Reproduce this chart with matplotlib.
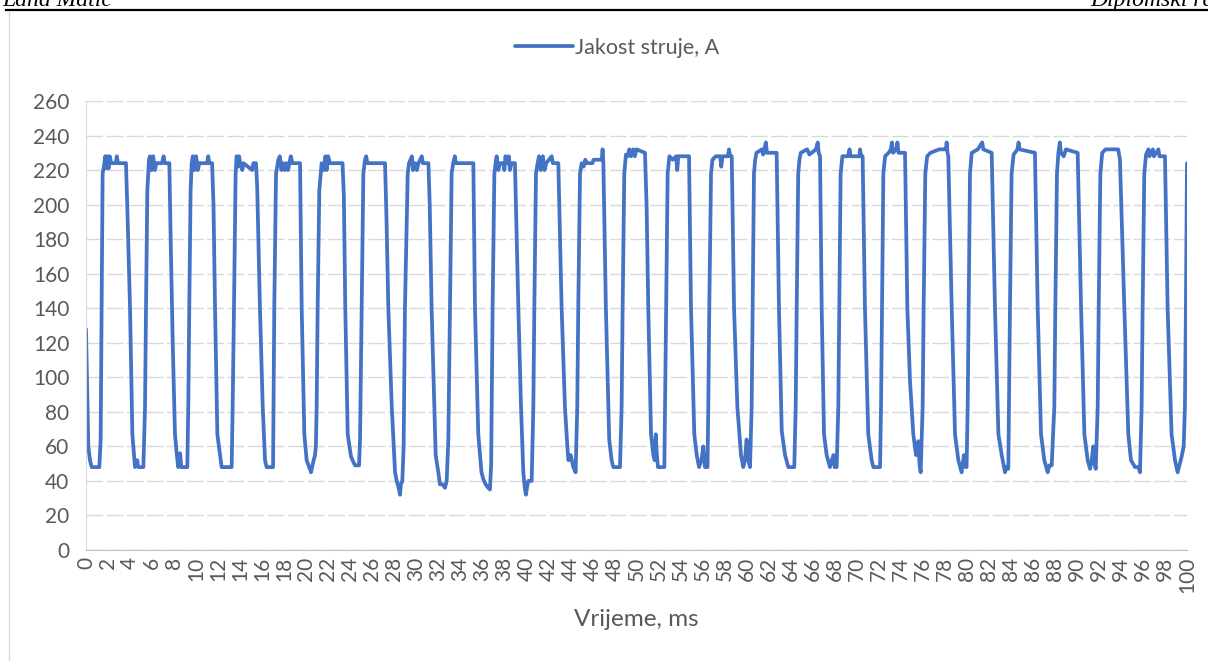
import matplotlib.pyplot as plt
from matplotlib.lines import Line2D

plt.rcParams['font.family'] = ['Lato', 'DejaVu Sans']

# Vrijeme (ms) i jakost struje (A) očitani s grafa, red po red = jedan period
vrijeme = [
    0, 0.21, 0.36, 0.52, 1.21, 1.33, 1.42, 1.51, 1.63, 1.75, 1.85, 1.95, 2.05, 2.15, 2.3, 2.7, 2.8, 2.9, 3.63, 3.75, 4.0, 4.21, 4.36, 4.45, 4.65, 4.75, 5.21,
    5.36, 5.45, 5.57, 5.72, 5.8, 5.95, 6.1, 6.25, 6.4, 6.9, 7.05, 7.15, 7.57, 7.69, 7.87, 8.08, 8.25, 8.38, 8.55, 8.65, 9.2,
    9.29, 9.38, 9.5, 9.6, 9.7, 9.85, 10.0, 10.15, 10.3, 11.0, 11.1, 11.2, 11.45, 11.58, 11.72, 11.93, 12.17, 12.32, 13.23,
    13.32, 13.44, 13.59, 13.68, 13.8, 13.9, 14.0, 14.2, 14.3, 15.1, 15.2, 15.44, 15.55, 15.8, 16.05, 16.26, 16.4, 16.99,
    17.01, 17.1, 17.26, 17.47, 17.6, 17.75, 17.9, 18.05, 18.2, 18.35, 18.6, 18.75, 19.44, 19.59, 19.83, 20.04, 20.44, 20.6, 20.8, 20.88,
    20.95, 21.04, 21.19, 21.4, 21.6, 21.75, 21.85, 22.0, 22.15, 23.3, 23.42, 23.55, 23.77, 24.07, 24.43, 24.8,
    24.89, 25.04, 25.19, 25.34, 25.45, 25.55, 27.16, 27.3, 27.46, 27.77, 28.07, 28.22, 28.4, 28.52, 28.6, 28.73, 28.85,
    28.97, 29.22, 29.34, 29.6, 29.7, 29.9, 30.05, 30.2, 30.5, 30.6, 31.1, 31.22, 31.39, 31.76, 32.0, 32.15, 32.4, 32.6, 32.76, 32.91,
    33.06, 33.21, 33.35, 33.5, 33.6, 35.18, 35.33, 35.63, 35.92, 36.09, 36.3, 36.54, 36.69, 36.8,
    36.85, 36.93, 37.09, 37.24, 37.3, 37.45, 37.6, 37.9, 38.0, 38.1, 38.25, 38.4, 38.5, 38.65, 38.96, 39.27, 39.51, 39.72, 39.85, 39.96, 40.05, 40.17, 40.48,
    40.63, 40.72, 40.87, 41.02, 41.15, 41.3, 41.5, 41.65, 41.8, 42.3, 42.4, 42.9, 43.2, 43.5, 43.72, 43.81, 44.02, 44.26, 44.47,
    44.62, 44.71, 44.87, 45.02, 45.2, 45.35, 45.5, 46.0, 46.1, 46.85, 46.92, 46.99, 47.22, 47.52, 47.74, 47.89, 48.5,
    48.65, 48.74, 48.89, 49.04, 49.2, 49.35, 49.5, 49.7, 49.85, 50.0, 50.77, 50.92, 51.07, 51.32, 51.53, 51.65, 51.75, 51.85, 51.95, 52.53,
    52.59, 52.68, 52.83, 52.99, 53.3, 53.6, 53.7, 53.8, 54.77, 54.95, 55.25, 55.47, 55.68, 55.9, 56.07, 56.22, 56.45,
    56.52, 56.61, 56.77, 56.9, 57.2, 57.6, 57.7, 57.8, 58.3, 58.4, 58.5, 58.65, 58.86, 59.16, 59.49, 59.7, 59.85, 60.0, 60.15, 60.31,
    60.46, 60.55, 60.67, 60.78, 60.9, 61.4, 61.5, 61.75, 61.85, 62.73, 62.94, 63.19, 63.3, 63.49, 63.79, 64.33,
    64.46, 64.55, 64.69, 64.8, 64.92, 65.5, 65.7, 66.3, 66.46, 66.55, 66.67, 66.82, 67.03, 67.27, 67.57, 67.75, 67.88, 68.0, 68.18,
    68.33, 68.42, 68.54, 68.7, 69.2, 69.35, 69.45, 70.25, 70.3, 70.4, 70.54, 70.75, 71.05, 71.36, 71.51, 72.12,
    72.21, 72.3, 72.42, 72.58, 72.9, 73.1, 73.2, 73.3, 73.6, 73.7, 73.8, 74.39, 74.6, 74.84, 75.14, 75.39, 75.5, 75.6, 75.7, 75.81,
    75.99, 76.08, 76.23, 76.4, 76.7, 77.5, 78.1, 78.17, 78.25, 78.32, 78.63, 78.93, 79.23, 79.53, 79.74, 79.9, 79.98,
    80.08, 80.17, 80.29, 80.45, 81.0, 81.4, 81.5, 82.26, 82.56, 82.87, 83.17, 83.47, 83.6, 83.77,
    83.83, 83.92, 84.07, 84.25, 84.6, 84.7, 84.8, 86.19, 86.44, 86.74, 87.04, 87.35, 87.5, 87.71,
    87.95, 88.04, 88.19, 88.32, 88.45, 88.55, 88.8, 89.0, 90.07, 90.38, 90.68, 90.98, 91.19, 91.35, 91.49, 91.6, 91.71,
    91.89, 91.98, 92.13, 92.3, 92.6, 93.75, 93.91, 94.31, 94.67, 94.91, 95.28, 95.6, 95.73,
    95.88, 95.97, 96.12, 96.28, 96.5, 96.6, 96.9, 97.0, 97.4, 97.5, 98.0, 98.24, 98.6, 98.91, 99.15, 99.35, 99.51, 99.7, 99.81, 99.9, 100.0,
]
struja = [
    128, 60, 52, 48, 48, 64, 140, 218, 222, 228, 221, 228, 221, 228, 224, 224, 228, 224, 224, 199, 140, 67, 55, 48, 52, 48, 48,
    83, 140, 208, 226, 228, 220, 228, 220, 224, 224, 228, 224, 224, 180, 122, 67, 55, 48, 56, 48, 48,
    83, 140, 208, 224, 228, 220, 228, 220, 224, 224, 228, 224, 224, 200, 140, 67, 55, 48, 48,
    83, 140, 218, 228, 222, 228, 224, 220, 224, 220, 224, 224, 210, 140, 83, 52, 48, 48,
    64, 140, 218, 226, 228, 220, 224, 220, 224, 220, 228, 224, 224, 140, 67, 52, 45, 50, 55, 60,
    83, 140, 208, 224, 220, 228, 220, 228, 224, 224, 205, 140, 67, 54, 49, 49,
    64, 140, 218, 226, 228, 224, 224, 190, 140, 83, 45, 40, 36, 32, 38, 40, 60,
    140, 218, 224, 228, 220, 224, 220, 224, 228, 224, 224, 200, 140, 55, 45, 38, 38, 36, 40, 64,
    140, 218, 224, 228, 224, 224, 140, 67, 45, 41, 38, 36, 35, 50,
    83, 140, 218, 226, 228, 220, 224, 224, 220, 228, 224, 228, 220, 224, 224, 140, 83, 45, 36, 32, 36, 40, 40,
    83, 140, 218, 224, 228, 220, 228, 220, 224, 228, 224, 224, 140, 83, 60, 52, 55, 48, 45,
    83, 140, 218, 224, 222, 226, 224, 224, 226, 226, 232, 224, 140, 64, 52, 48, 48,
    83, 140, 218, 229, 228, 232, 228, 232, 228, 232, 230, 199, 140, 67, 55, 52, 67, 55, 48, 48,
    83, 140, 218, 228, 226, 228, 220, 228, 228, 140, 67, 55, 48, 52, 60, 48, 48,
    83, 140, 218, 226, 228, 228, 222, 228, 228, 232, 228, 228, 140, 83, 55, 48, 52, 64, 52, 48,
    83, 140, 218, 226, 230, 232, 229, 236, 230, 230, 140, 69, 64, 55, 48, 48,
    83, 140, 218, 226, 230, 232, 229, 232, 236, 230, 228, 140, 67, 55, 48, 52, 55, 48, 48,
    83, 140, 218, 228, 228, 232, 228, 228, 232, 228, 228, 140, 67, 52, 48, 48,
    83, 140, 218, 228, 230, 232, 236, 230, 232, 236, 230, 230, 140, 98, 67, 55, 60, 63, 50, 45,
    83, 140, 218, 228, 230, 232, 232, 236, 230, 228, 140, 67, 52, 45, 55, 48, 48,
    83, 140, 218, 230, 232, 236, 232, 230, 140, 67, 55, 45, 48, 47,
    83, 140, 218, 229, 232, 236, 232, 230, 140, 67, 52, 45, 49, 49,
    83, 140, 218, 230, 236, 230, 228, 232, 230, 140, 67, 52, 47, 52, 60, 50, 47,
    83, 140, 218, 230, 232, 232, 226, 140, 67, 52, 48, 48, 45,
    83, 140, 218, 229, 232, 228, 232, 228, 232, 228, 228, 140, 67, 52, 45, 50, 54, 60, 83, 140, 224,
]

x_oznake = list(range(0, 101, 2))
y_oznake = list(range(0, 261, 20))

siva = '#595959'
W, H = 1208, 661
fig = plt.figure(figsize=(W / 100, H / 100), dpi=100)
ax = fig.add_axes([86 / W, 1 - 550 / H, (1187 - 86) / W, (550 - 101) / H])

ax.plot(vrijeme, struja, color='#4472C4', lw=2.7, solid_joinstyle='round',
        solid_capstyle='round', label='Jakost struje, A')

ax.set_xlim(0, 100)
ax.set_ylim(0, 260)
ax.set_xticks(x_oznake)
ax.set_xticklabels([str(v) for v in x_oznake], rotation=90)
ax.set_yticks(y_oznake)
ax.tick_params(axis='both', length=0, labelsize=15, labelcolor=siva)
ax.tick_params(axis='x', pad=5)
ax.tick_params(axis='y', pad=12)
ax.grid(axis='y', color='#d9d9d9', lw=1, linestyle=(0, (12, 2.5)))
ax.set_axisbelow(True)
for s in ['top', 'right']:
    ax.spines[s].set_visible(False)
ax.spines['bottom'].set_color('#bfbfbf')
ax.spines['left'].set_color('#d9d9d9')

fig.legend(loc='center', bbox_to_anchor=(617 / W, 1 - 48 / H), frameon=False,
           fontsize=15.5, labelcolor=siva, handlelength=2.7, handletextpad=0.1)
fig.text(636 / W, 1 - 620 / H, 'Vrijeme, ms', ha='center', va='center', fontsize=17.5, color=siva)

# okvir grafa i zaglavlje stranice
fig.add_artist(Line2D([8.5 / W, 8.5 / W], [0, 1 - 12 / H], color='#d9d9d9', lw=1))
fig.add_artist(Line2D([6 / W, 1], [1 - 10 / H, 1 - 10 / H], color='black', lw=1.6))
fig.text(2 / W, 1 - 6 / H, 'Lana Matić', family='Liberation Serif', style='italic',
         fontsize=17, va='baseline', ha='left')
fig.text(1090 / W, 1 - 6 / H, 'Diplomski rad', family='Liberation Serif', style='italic',
         fontsize=17, va='baseline', ha='left')

fig.savefig('out.png', dpi=100)
